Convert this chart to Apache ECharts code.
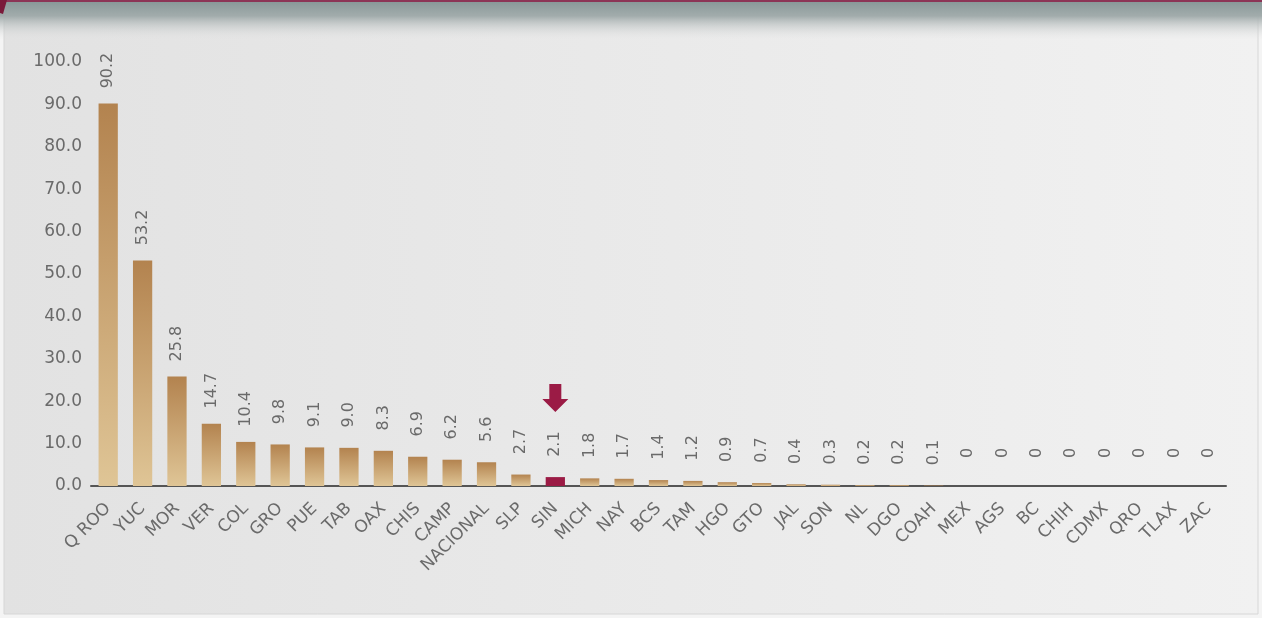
<!DOCTYPE html>
<html><head><meta charset="utf-8">
<script src="https://cdn.jsdelivr.net/npm/echarts@6/dist/echarts.min.js"></script>
<style>html,body{margin:0;padding:0;background:#f4f4f4}#c{width:1262px;height:618px}</style>
</head><body><div id="c"></div>
<script>
const categories = ['Q ROO','YUC','MOR','VER','COL','GRO','PUE','TAB','OAX','CHIS','CAMP','NACIONAL','SLP','SIN','MICH','NAY','BCS','TAM','HGO','GTO','JAL','SON','NL','DGO','COAH','MEX','AGS','BC','CHIH','CDMX','QRO','TLAX','ZAC'];
const values = [90.2,53.2,25.8,14.7,10.4,9.8,9.1,9.0,8.3,6.9,6.2,5.6,2.7,2.1,1.8,1.7,1.4,1.2,0.9,0.7,0.4,0.3,0.2,0.2,0.1,0,0,0,0,0,0,0,0];
const highlight = 'SIN';
const yTicks = {min:0, max:100, interval:10};

const chart = echarts.init(document.getElementById('c'));
const gold = {type:'linear',x:0,y:0,x2:0,y2:1,colorStops:[{offset:0,color:'#b3834f'},{offset:1,color:'#dfc596'}]};
const font = '"DejaVu Sans", sans-serif';
chart.setOption({
  backgroundColor:'#f4f4f4',
  graphic:[
    {type:'rect',shape:{x:4,y:0,width:1254,height:614},style:{fill:{type:'linear',x:0,y:0,x2:1,y2:0,colorStops:[{offset:0,color:'#e2e2e2'},{offset:1,color:'#f1f1f1'}]},stroke:'#d6d6d6',lineWidth:1},z:-10},
    {type:'rect',shape:{x:0,y:0,width:1262,height:40},style:{fill:{type:'linear',x:0,y:0,x2:0,y2:1,colorStops:[{offset:0,color:'#869696'},{offset:0.4,color:'#a2acac'},{offset:1,color:'rgba(228,228,228,0)'}]}},z:-9},
    {type:'rect',shape:{x:0,y:0,width:1262,height:2},style:{fill:'#8c3556'},z:-8},
    {type:'polygon',shape:{points:[[0,0],[7,0],[3,14],[0,13]]},style:{fill:'#7a1a3a'},z:-8}
  ],
  grid:{left:91,right:36,top:62,bottom:132},
  xAxis:{type:'category',data:categories,
    axisLine:{lineStyle:{color:'#555',width:2}},axisTick:{show:false},
    axisLabel:{rotate:45,interval:0,color:'#6a6a6a',fontSize:17,fontFamily:font,margin:20}},
  yAxis:{type:'value',min:yTicks.min,max:yTicks.max,interval:yTicks.interval,
    axisLine:{show:false},axisTick:{show:false},splitLine:{show:false},
    axisLabel:{color:'#6a6a6a',fontSize:17,fontFamily:font,margin:9,formatter:v=>v.toFixed(1)}},
  series:[{type:'bar',barWidth:'56%',
    data:values.map((v,i)=>({value:v,itemStyle:{color:categories[i]===highlight?'#9b1b45':gold}})),
    label:{show:true,position:'top',distance:33,rotate:90,align:'center',verticalAlign:'middle',
      color:'#6a6a6a',fontSize:16,fontFamily:font,formatter:p=>p.value===0?'0':p.value.toFixed(1)},
    markPoint:{symbol:'path://M7,0 L19,0 L19,15 L26,15 L13,28 L0,15 L7,15 Z',symbolSize:[26,28],
      symbolOffset:[0,-79],itemStyle:{color:'#9b1b45'},label:{show:false},
      data:[{coord:[highlight, values[categories.indexOf(highlight)]]}]}
  }]
});
</script></body></html>
